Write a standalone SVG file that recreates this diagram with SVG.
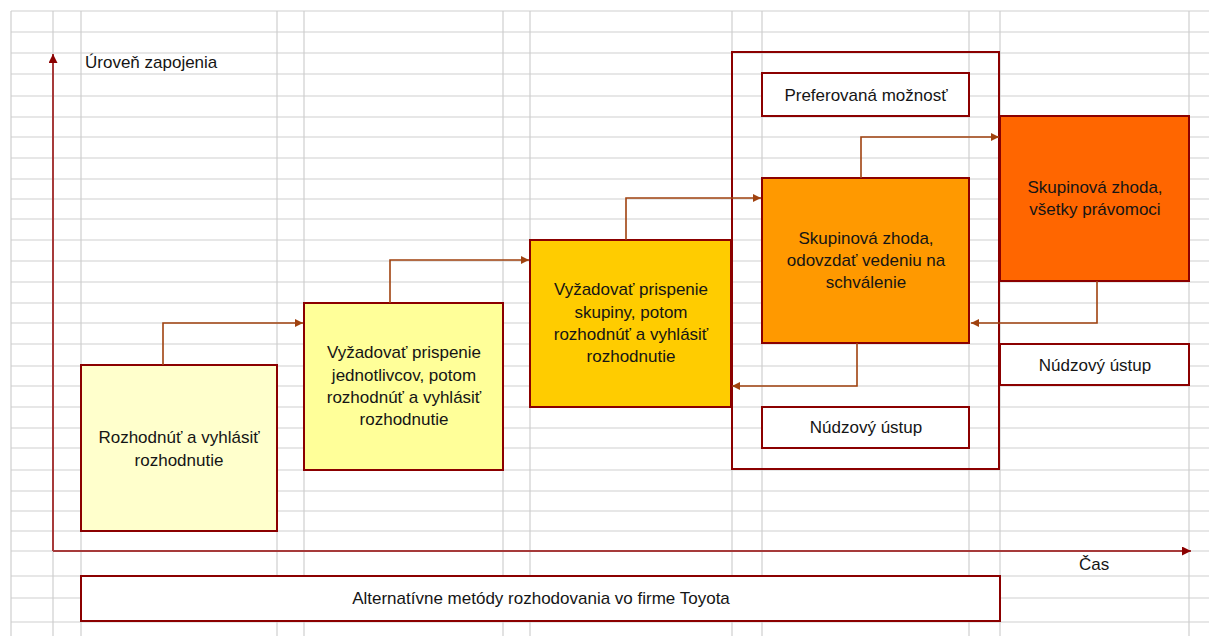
<svg xmlns="http://www.w3.org/2000/svg" width="1209" height="636" viewBox="0 0 1209 636">
<defs>
<style>
.grid line{stroke:#cfcfcf;stroke-width:1.2}
.box{stroke:#8b0000;stroke-width:2}
.t{font-family:"Liberation Sans",Arial,sans-serif;font-size:17px;fill:#151515;text-anchor:middle}
.tl{font-family:"Liberation Sans",Arial,sans-serif;font-size:17px;fill:#151515}
.conn{fill:none;stroke:#a0420f;stroke-width:1.6}
.axis{fill:none;stroke:#a63a3a;stroke-width:2}
</style>
<marker id="ah" viewBox="0 0 10 10" refX="10" refY="5" markerWidth="10" markerHeight="8" markerUnits="userSpaceOnUse" orient="auto">
<path d="M0,0 L10,5 L0,10 z" fill="#a0420f"/>
</marker>
<marker id="ax" viewBox="0 0 10 10" refX="10" refY="5" markerWidth="11" markerHeight="9" markerUnits="userSpaceOnUse" orient="auto">
<path d="M0,0 L10,5 L0,10 z" fill="#8b0000"/>
</marker>
</defs>
<rect x="0" y="0" width="1209" height="636" fill="#ffffff"/>
<g class="grid" id="grid">
<line x1="11" y1="11" x2="1209" y2="11"/>
<line x1="11" y1="32" x2="1209" y2="32"/>
<line x1="11" y1="53" x2="1209" y2="53"/>
<line x1="11" y1="74" x2="1209" y2="74"/>
<line x1="11" y1="96" x2="1209" y2="96"/>
<line x1="11" y1="117" x2="1209" y2="117"/>
<line x1="11" y1="137" x2="1209" y2="137"/>
<line x1="11" y1="158" x2="1209" y2="158"/>
<line x1="11" y1="179" x2="1209" y2="179"/>
<line x1="11" y1="199" x2="1209" y2="199"/>
<line x1="11" y1="219" x2="1209" y2="219"/>
<line x1="11" y1="240" x2="1209" y2="240"/>
<line x1="11" y1="261" x2="1209" y2="261"/>
<line x1="11" y1="282" x2="1209" y2="282"/>
<line x1="11" y1="303" x2="1209" y2="303"/>
<line x1="11" y1="323" x2="1209" y2="323"/>
<line x1="11" y1="344" x2="1209" y2="344"/>
<line x1="11" y1="366" x2="1209" y2="366"/>
<line x1="11" y1="386" x2="1209" y2="386"/>
<line x1="11" y1="407" x2="1209" y2="407"/>
<line x1="11" y1="428" x2="1209" y2="428"/>
<line x1="11" y1="448" x2="1209" y2="448"/>
<line x1="11" y1="470" x2="1209" y2="470"/>
<line x1="11" y1="491" x2="1209" y2="491"/>
<line x1="11" y1="511" x2="1209" y2="511"/>
<line x1="11" y1="531" x2="1209" y2="531"/>
<line x1="11" y1="551" x2="1209" y2="551"/>
<line x1="11" y1="576" x2="1209" y2="576"/>
<line x1="11" y1="598" x2="1209" y2="598"/>
<line x1="11" y1="622" x2="1209" y2="622"/>
<line x1="11" y1="11" x2="11" y2="636"/>
<line x1="53" y1="11" x2="53" y2="636"/>
<line x1="81" y1="11" x2="81" y2="636"/>
<line x1="277" y1="11" x2="277" y2="636"/>
<line x1="304" y1="11" x2="304" y2="636"/>
<line x1="503" y1="11" x2="503" y2="636"/>
<line x1="530" y1="11" x2="530" y2="636"/>
<line x1="732" y1="11" x2="732" y2="636"/>
<line x1="762" y1="11" x2="762" y2="636"/>
<line x1="969" y1="11" x2="969" y2="636"/>
<line x1="1000" y1="11" x2="1000" y2="636"/>
<line x1="1189" y1="11" x2="1189" y2="636"/>
</g>
<g id="axes">
<line class="axis" x1="53" y1="551" x2="53" y2="54" marker-end="url(#ax)"/>
<line class="axis" x1="53" y1="551" x2="1191" y2="551" marker-end="url(#ax)"/>
<text class="tl" x="85" y="68">Úroveň zapojenia</text>
<text class="tl" x="1079" y="570">Čas</text>
</g>
<g id="frame">
<rect class="box" x="732" y="52" width="267" height="417" fill="none"/>
</g>
<g id="n1">
<rect class="box" x="81" y="365" width="196" height="166" fill="#ffffcc"/>
<text class="t" x="179" y="443">Rozhodnúť a vyhlásiť</text>
<text class="t" x="179" y="466">rozhodnutie</text>
</g>
<g id="n2">
<rect class="box" x="304" y="303" width="199" height="167" fill="#ffff99"/>
<text class="t" x="404" y="358">Vyžadovať prispenie</text>
<text class="t" x="404" y="381">jednotlivcov, potom</text>
<text class="t" x="404" y="403">rozhodnúť a vyhlásiť</text>
<text class="t" x="404" y="425">rozhodnutie</text>
</g>
<g id="n3">
<rect class="box" x="530" y="240" width="201" height="167" fill="#ffcc00"/>
<text class="t" x="631" y="295">Vyžadovať prispenie</text>
<text class="t" x="631" y="318">skupiny, potom</text>
<text class="t" x="631" y="340">rozhodnúť a vyhlásiť</text>
<text class="t" x="631" y="362">rozhodnutie</text>
</g>
<g id="n4">
<rect class="box" x="762" y="178" width="207" height="165" fill="#ff9900"/>
<text class="t" x="866" y="244">Skupinová zhoda,</text>
<text class="t" x="866" y="266">odovzdať vedeniu na</text>
<text class="t" x="866" y="288">schválenie</text>
</g>
<g id="n5">
<rect class="box" x="1000" y="116" width="189" height="165" fill="#ff6600"/>
<text class="t" x="1095" y="193">Skupinová zhoda,</text>
<text class="t" x="1095" y="215">všetky právomoci</text>
</g>
<g id="n6">
<rect class="box" x="762" y="73" width="207" height="43" fill="#ffffff"/>
<text class="t" x="866" y="101">Preferovaná možnosť</text>
</g>
<g id="n7">
<rect class="box" x="762" y="407" width="207" height="41" fill="#ffffff"/>
<text class="t" x="866" y="433">Núdzový ústup</text>
</g>
<g id="n8">
<rect class="box" x="1000" y="344" width="189" height="41" fill="#ffffff"/>
<text class="t" x="1095" y="371">Núdzový ústup</text>
</g>
<g id="n9">
<rect class="box" x="81" y="576" width="919" height="45" fill="#ffffff"/>
<text class="t" x="541" y="604">Alternatívne metódy rozhodovania vo firme Toyota</text>
</g>
<g id="connectors">
<path class="conn" d="M163,365 V323 H303" marker-end="url(#ah)"/>
<path class="conn" d="M390,303 V260 H529" marker-end="url(#ah)"/>
<path class="conn" d="M626,240 V198 H761" marker-end="url(#ah)"/>
<path class="conn" d="M861,178 V137 H999" marker-end="url(#ah)"/>
<path class="conn" d="M1097,281 V323 H971" marker-end="url(#ah)"/>
<path class="conn" d="M857,343 V386 H732" marker-end="url(#ah)"/>
</g>
</svg>
